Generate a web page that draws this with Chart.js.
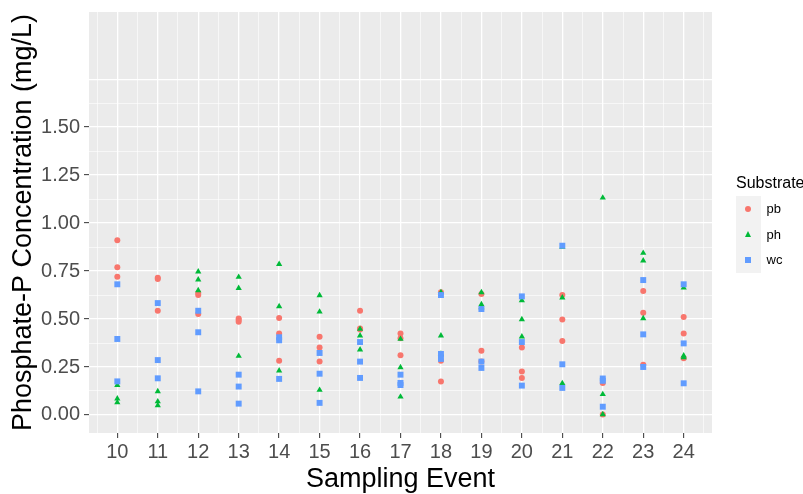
<!DOCTYPE html>
<html>
<head>
<meta charset="utf-8">
<script src="https://cdn.jsdelivr.net/npm/chart.js@4"></script>
<style>
  body { margin: 0; background: #fff; font-family: "Liberation Sans", Arial, sans-serif; }
  #wrap { position: relative; width: 803px; height: 494px; }
  #legend { position: absolute; left: 736px; top: 175px; color: #000; }
  #legend .title { font-size: 16px; line-height: 16px; height: 21px; }
  #legend .key { display: flex; align-items: center; height: 25.5px; }
  #legend .sym { width: 24.5px; height: 25.5px; background: #F2F2F2; position: relative; }
  #legend .lab { font-size: 13px; padding-left: 6px; }
  .pt { position: absolute; left: 12px; top: 12.75px; transform: translate(-50%, -50%); }
  .circ { width: 6px; height: 6px; border-radius: 50%; background: #F8766D; }
  .tri { width: 0; height: 0; border-left: 3.5px solid transparent; border-right: 3.5px solid transparent; border-bottom: 6px solid #00BA38; }
  .sq { width: 6px; height: 6px; background: #619CFF; }
</style>
</head>
<body>
<div id="wrap">
  <canvas id="chartPhosphate"></canvas>
  <div id="legend">
    <div class="title">Substrate</div>
    <div class="key"><div class="sym"><div class="pt circ"></div></div><div class="lab">pb</div></div>
    <div class="key"><div class="sym"><div class="pt tri"></div></div><div class="lab">ph</div></div>
    <div class="key"><div class="sym"><div class="pt sq"></div></div><div class="lab">wc</div></div>
  </div>
</div>
<script>
	// sampling events and replicate phosphate readings (mg/L) per substrate
	let events = [10, 11, 12, 13, 14, 15, 16, 17, 18, 19, 20, 21, 22, 23, 24];

	let pb = [
		[0.91, 0.77, 0.72],
		[0.715, 0.708, 0.543],
		[0.635, 0.625, 0.526],
		[0.503, 0.495, 0.486],
		[0.505, 0.424, 0.283],
		[0.408, 0.351, 0.278],
		[0.543, 0.451, 0.445],
		[0.425, 0.40, 0.311],
		[0.639, 0.283, 0.175],
		[0.630, 0.335, 0.278],
		[0.352, 0.227, 0.193],
		[0.625, 0.498, 0.385],
		[0.167, 0.003],
		[0.646, 0.533, 0.262],
		[0.510, 0.425, 0.295]
	];

	let ph = [
		[0.155, 0.085, 0.065],
		[0.123, 0.07, 0.05],
		[0.747, 0.705, 0.649],
		[0.719, 0.661, 0.307],
		[0.786, 0.566, 0.231],
		[0.623, 0.538, 0.130],
		[0.448, 0.413, 0.340],
		[0.396, 0.248, 0.095],
		[0.639, 0.413, 0.318],
		[0.639, 0.576, 0.56],
		[0.597, 0.498, 0.408],
		[0.875, 0.611, 0.165],
		[1.132, 0.108, 0.003],
		[0.844, 0.804, 0.503],
		[0.663, 0.309, 0.30]
	];

	let wc = [
		[0.681, 0.396, 0.175],
		[0.583, 0.286, 0.191],
		[0.543, 0.431, 0.123],
		[0.210, 0.148, 0.059],
		[0.405, 0.389, 0.188],
		[0.323, 0.215, 0.063],
		[0.380, 0.278, 0.193],
		[0.210, 0.167, 0.156],
		[0.625, 0.318, 0.292],
		[0.552, 0.278, 0.245],
		[0.618, 0.38, 0.153],
		[0.882, 0.264, 0.141],
		[0.19, 0.178, 0.043],
		[0.703, 0.420, 0.250],
		[0.681, 0.373, 0.165]
	];

	let yTicks = [0, 0.25, 0.5, 0.75, 1, 1.25, 1.5];

	function toPoints(series) {
		let pts = [];
		series.forEach(function(vals, i) {
			vals.forEach(function(v) { pts.push({ x: events[i], y: v }); });
		});
		return pts;
	}

	// grid positions: majors on whole steps, minors half way between
	let xGrid = [];
	for (let i = 0; i <= 30; i++) xGrid.push(9.5 + i * 0.5);
	let yGrid = [];
	for (let i = 0; i <= 14; i++) yGrid.push(i * 0.125);

	function isWhole(v, step) {
		return Math.abs(v / step - Math.round(v / step)) < 1e-6;
	}

	let panelBg = {
		id: 'panelBg',
		beforeDraw: function(chart) {
			let a = chart.chartArea;
			let c = chart.ctx;
			c.save();
			c.fillStyle = '#EBEBEB';
			c.fillRect(a.left, a.top, a.right - a.left, a.bottom - a.top);
			c.restore();
		}
	};

	let font = '"Liberation Sans", Arial, sans-serif';

	let ctx = document.getElementById('chartPhosphate');

	new Chart(ctx, {
		type: 'scatter',
		data: {
			datasets: [
				{ label: 'pb', data: toPoints(pb), pointStyle: 'circle', pointRadius: 3, backgroundColor: '#F8766D', borderWidth: 0, order: 3 },
				{ label: 'ph', data: toPoints(ph), pointStyle: 'triangle', pointRadius: 3.6, backgroundColor: '#00BA38', borderWidth: 0, order: 2 },
				{ label: 'wc', data: toPoints(wc), pointStyle: 'rect', pointRadius: 4.2, backgroundColor: '#619CFF', borderWidth: 0, order: 1 }
			]
		},
		options: {
			responsive: true,
			maintainAspectRatio: false,
			animation: false,
			events: [],
			layout: { padding: { top: 12, right: 91, left: 1, bottom: 0 } },
			plugins: {
				legend: { display: false },
				tooltip: { enabled: false }
			},
			scales: {
				x: {
					type: 'linear',
					min: 9.3,
					max: 24.7,
					afterBuildTicks: function(scale) {
						scale.ticks = xGrid.map(function(v) { return { value: v }; });
					},
					afterFit: function(scale) {
						scale.height = 61;
						scale.paddingLeft = 0;
						scale.paddingRight = 0;
					},
					border: { display: false },
					grid: {
						color: '#FFFFFF',
						lineWidth: function(c) { return isWhole(c.tick.value, 1) ? 1.3 : 0.6; },
						tickColor: function(c) { return isWhole(c.tick.value, 1) ? '#333333' : 'rgba(0,0,0,0)'; },
						tickLength: 5,
						tickWidth: 1
					},
					ticks: {
						autoSkip: false,
						maxRotation: 0,
						padding: 2,
						color: '#4D4D4D',
						font: { family: font, size: 20 },
						callback: function(v) { return isWhole(v, 1) ? String(v) : ''; }
					},
					title: {
						display: true,
						text: 'Sampling Event',
						color: '#000000',
						font: { family: font, size: 27, lineHeight: 1.05 },
						padding: { top: 0, bottom: 0 }
					}
				},
				y: {
					type: 'linear',
					min: -0.094,
					max: 2.10,
					afterBuildTicks: function(scale) {
						scale.ticks = yGrid.map(function(v) { return { value: v }; });
					},
					afterFit: function(scale) {
						scale.width = 88;
						scale.paddingTop = 0;
						scale.paddingBottom = 0;
					},
					border: { display: false },
					grid: {
						color: '#FFFFFF',
						lineWidth: function(c) { return isWhole(c.tick.value, 0.25) ? 1.3 : 0.6; },
						tickColor: function(c) { return yTicks.indexOf(c.tick.value) >= 0 ? '#333333' : 'rgba(0,0,0,0)'; },
						tickLength: 5,
						tickWidth: 1
					},
					ticks: {
						autoSkip: false,
						padding: 4,
						color: '#4D4D4D',
						font: { family: font, size: 20 },
						callback: function(v) { return yTicks.indexOf(v) >= 0 ? v.toFixed(2) : ''; }
					},
					title: {
						display: true,
						text: 'Phosphate-P Concentration (mg/L)',
						color: '#000000',
						font: { family: font, size: 27 },
						padding: { top: 6, bottom: 0 }
					}
				}
			}
		},
		plugins: [panelBg]
	});
</script>
</body>
</html>
